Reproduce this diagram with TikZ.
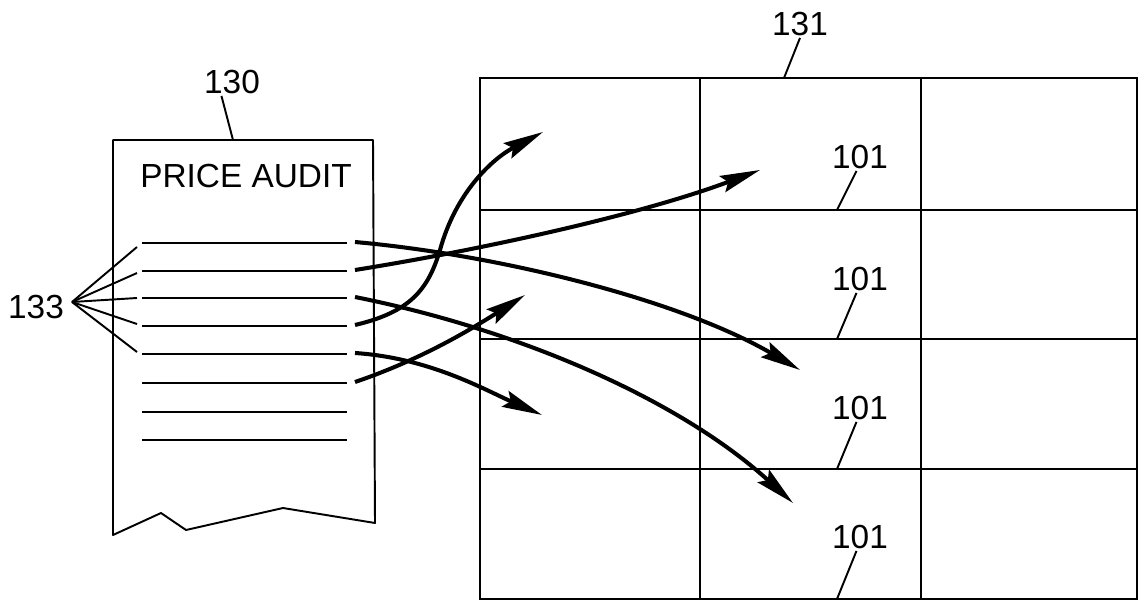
\documentclass[tikz,border=0pt]{standalone}
\usepackage{fontspec}
\setmainfont{Liberation Sans}
\usetikzlibrary{arrows.meta}
\begin{document}
\begin{tikzpicture}[
  x=0.02cm,y=-0.02cm,
  line/.style={draw=black,line width=1.1pt},
  flow/.style={draw=black,line width=2.3pt,-{Stealth[length=0.8cm,width=0.34cm,inset=0.12cm]}},
  label/.style={font=\fontsize{19}{21}\selectfont,text=black,inner sep=1pt},
]
\useasboundingbox (0,0) rectangle (1139,601);
% receipt 130
\draw[line,line join=round] (113,140) -- (373,140) -- (375,523) -- (283,508) -- (186,530) -- (161,513) -- (113,535) -- cycle;
\node[label] (title) at (246,176) {PRICE AUDIT};
\foreach \i/\y in {1/243,2/271,3/298,4/326,5/354,6/383,7/412,8/440}{
  \draw[line] (142,\y) -- (347,\y);
  \coordinate (s\i) at (355,\y-1);
}
\node[label] (n130) at (232,82) {130};
\coordinate (r130) at (233,140);
\draw[line] ([xshift=-6pt]n130.south) -- (r130);
% item leaders 133
\node[label] (n133) at (36,307) {133};
\coordinate (h133) at (72,302);
\foreach \i/\y in {1/247,2/273,3/298,4/324,5/352}{
  \coordinate (e\i) at (137,\y);
  \draw[line] (h133) -- (e\i);
}
% shelf grid 131
\draw[line] (480,78) rectangle (1137,599);
\foreach \x in {700,921}{\draw[line] (\x,78) -- (\x,599);}
\foreach \y in {210,339,469}{\draw[line] (480,\y) -- (1137,\y);}
\node[label] (n131) at (800,24) {131};
\coordinate (r131) at (784,78);
\draw[line] (n131.south) -- (r131);
\foreach \i/\y/\b in {1/157/210,2/279/339,3/408/469,4/537/599}{
  \node[label] (c\i) at (860,\y) {101};
  \coordinate (r\i) at (837,\b);
  \draw[line] ([xshift=-2pt]c\i.south) -- (r\i);
}
% arrows to locations
\coordinate (t1) at (800,370);
\coordinate (t2) at (760,170);
\coordinate (t3) at (793,503);
\coordinate (t4) at (543,132);
\coordinate (t5) at (542,415);
\coordinate (t6) at (525,295);
\draw[flow] (s1) .. controls (500,255) and (680,300) .. (t1);
\draw[flow] (s2) .. controls (480,250) and (640,215) .. (t2);
\draw[flow] (s3) .. controls (520,330) and (680,400) .. (t3);
\draw[flow] (s4) .. controls (410,312) and (428,290) .. (440,250) .. controls (455,195) and (490,160) .. (t4);
\draw[flow] (s5) .. controls (430,358) and (485,390) .. (t5);
\draw[flow] (s6) .. controls (420,360) and (470,330) .. (t6);
\end{tikzpicture}
\end{document}
